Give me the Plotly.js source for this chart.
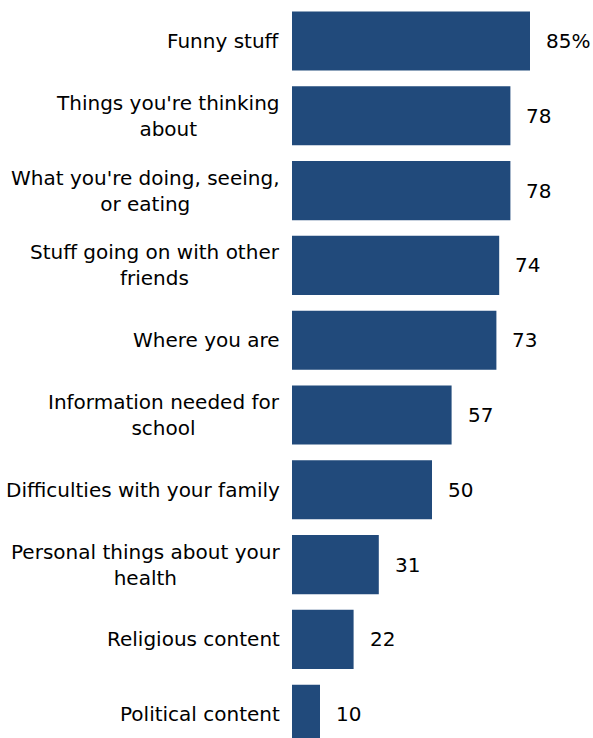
<!DOCTYPE html>
<html>
<head>
<meta charset="utf-8">
<script src="https://cdn.plot.ly/plotly-3.0.1.min.js"></script>
<style>html,body{margin:0;padding:0;background:#fff;}#chart{width:593px;height:738px;}</style>
</head>
<body>
<div id="chart"></div>
<script>
var categories = [
  "Funny stuff",
  "Things you're thinking<br>about",
  "What you're doing, seeing,<br>or eating",
  "Stuff going on with other<br>friends",
  "Where you are",
  "Information needed for<br>school",
  "Difficulties with your family",
  "Personal things about your<br>health",
  "Religious content",
  "Political content"
];
var values = [85, 78, 78, 74, 73, 57, 50, 31, 22, 10];
var valueLabels = ["85%", "78", "78", "74", "73", "57", "50", "31", "22", "10"];

var idx = categories.map(function(_, i){ return i; });
var font = "DejaVu Sans, Verdana, sans-serif";

var trace = {
  type: "bar",
  orientation: "h",
  x: values,
  y: idx,
  marker: {color: "#214a7b"},
  hoverinfo: "none"
};

var annotations = [];
categories.forEach(function(c, i){
  annotations.push({
    xref: "paper", yref: "y", x: 0, y: i, xanchor: "right", yanchor: "middle",
    xshift: -10, text: c, showarrow: false, align: "center",
    font: {family: font, size: 20, color: "#000"}
  });
  annotations.push({
    xref: "x", yref: "y", x: values[i], y: i, xanchor: "left", yanchor: "middle",
    xshift: 14, text: valueLabels[i], showarrow: false,
    font: {family: font, size: 20, color: "#000"}
  });
});

var layout = {
  width: 593, height: 738,
  margin: {l: 292, r: 0, t: 0, b: 0},
  paper_bgcolor: "#fff", plot_bgcolor: "#fff",
  showlegend: false,
  bargap: 0.21,
  xaxis: {range: [0, 107.5], visible: false, fixedrange: true},
  yaxis: {range: [9.318, -0.548], visible: false, fixedrange: true},
  annotations: annotations
};

Plotly.newPlot("chart", [trace], layout, {displayModeBar: false, staticPlot: true});
</script>
</body>
</html>
